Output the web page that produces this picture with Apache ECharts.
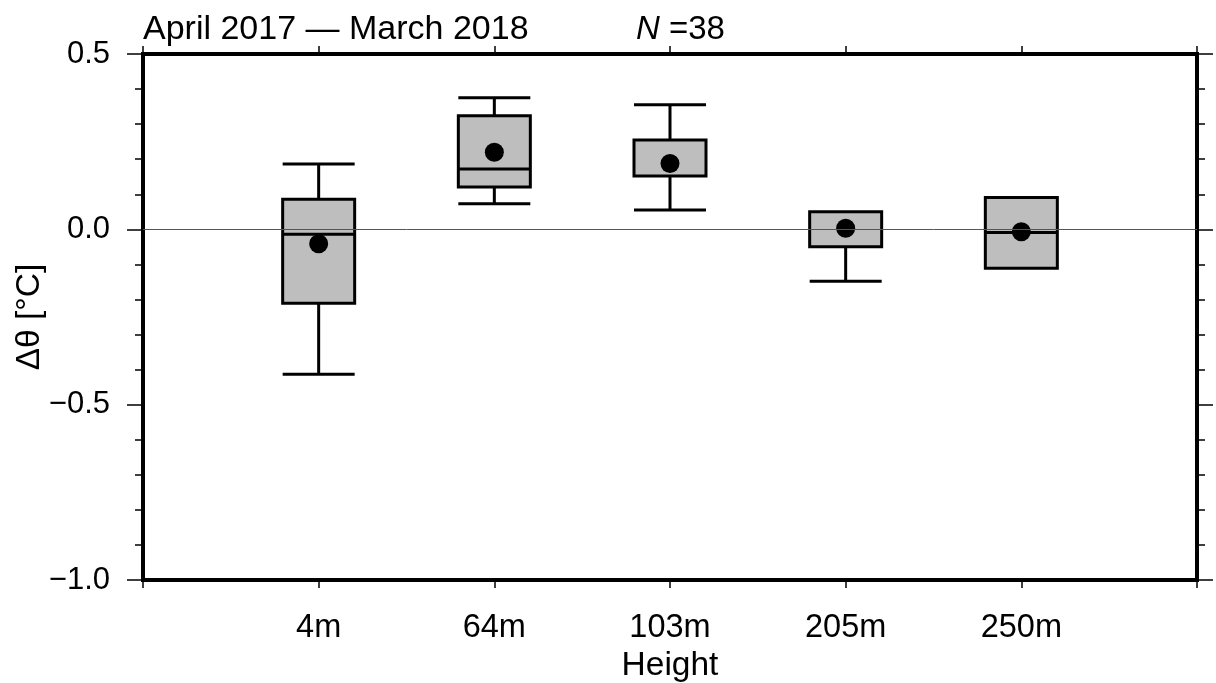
<!DOCTYPE html>
<html>
<head>
<meta charset="utf-8">
<title>Δθ by height</title>
<script src="https://cdn.jsdelivr.net/npm/echarts@6/dist/echarts.min.js"></script>
<style>
  html, body { margin: 0; padding: 0; background: #fff; }
  #chart { width: 1216px; height: 683px; }
</style>
</head>
<body>
<div id="chart"></div>
<script>
// Measurement heights, placed at x = 1..5 on a 0..6 axis
const categories = ['4m', '64m', '103m', '205m', '250m'];
const positions = [1, 2, 3, 4, 5];

// Box statistics of Δθ [°C] per height
const whiskerLow  = [-0.413, 0.073, 0.055, -0.148, -0.111];
const quartile1   = [-0.211, 0.121, 0.152, -0.050, -0.111];
const medians     = [-0.014, 0.172, 0.152, -0.050, -0.009];
const quartile3   = [ 0.086, 0.324, 0.255,  0.050,  0.091];
const whiskerHigh = [ 0.186, 0.375, 0.355,  0.050,  0.091];
const means       = [-0.041, 0.220, 0.188,  0.003, -0.007];

const yTickValues = [-1.0, -0.5, 0.0, 0.5];

const FONT = '"Liberation Sans", Arial, Helvetica, sans-serif';

const boxData = positions.map((x, i) =>
  [x, whiskerLow[i], quartile1[i], medians[i], quartile3[i], whiskerHigh[i]]);
const meanData = positions.map((x, i) => [x, means[i]]);

function yLabel(v) {
  const s = Math.abs(v).toFixed(1);
  return v < 0 ? '\u2212' + s : s;
}

const tickStyle = { color: '#000', width: 1.5 };
const noLine = { show: false, onZero: false };

const chart = echarts.init(document.getElementById('chart'), null, { renderer: 'canvas' });
chart.setOption({
  animation: false,
  backgroundColor: '#fff',
  grid: {
    left: 143, right: 19, top: 54, bottom: 103,
    containLabel: false, outerBoundsMode: 'none',
    show: true, borderColor: '#000', borderWidth: 4, backgroundColor: 'transparent'
  },
  graphic: [
    {
      type: 'text', left: 143, top: 13, silent: true,
      style: { text: 'April 2017 \u2014 March 2018', font: '34px ' + FONT, fill: '#000' }
    },
    {
      type: 'text', left: 636, top: 13, silent: true,
      style: {
        text: '{i|N} =38',
        font: '33px ' + FONT, fill: '#000',
        rich: { i: { fontStyle: 'italic', fontSize: 33, fontFamily: FONT, color: '#000' } }
      }
    }
  ],
  xAxis: [
    {
      type: 'value', position: 'bottom', min: 0, max: 6, interval: 1,
      name: 'Height', nameLocation: 'middle', nameGap: 69, nameMoveOverlap: false,
      nameTextStyle: { fontFamily: FONT, fontSize: 33.5, color: '#000' },
      axisLine: noLine,
      axisTick: { show: true, inside: false, length: 8, lineStyle: tickStyle },
      splitLine: { show: false },
      axisLabel: {
        margin: 32, fontFamily: FONT, fontSize: 32.5, color: '#000',
        showMinLabel: true, showMaxLabel: true,
        formatter: v => (v >= 1 && v <= categories.length ? categories[v - 1] : '')
      }
    },
    {
      type: 'value', position: 'top', min: 0, max: 6, interval: 1,
      axisLine: noLine,
      axisTick: { show: true, inside: false, length: 8, lineStyle: tickStyle },
      splitLine: { show: false },
      axisLabel: { show: false }
    }
  ],
  yAxis: [
    {
      type: 'value', position: 'left', min: yTickValues[0], max: yTickValues[yTickValues.length - 1], interval: 0.5,
      name: '\u0394\u03b8 [\u00b0C]', nameLocation: 'middle', nameGap: 96, nameMoveOverlap: false,
      nameTextStyle: { fontFamily: FONT, fontSize: 33.5, color: '#000' },
      axisLine: noLine,
      axisTick: { show: true, inside: false, length: 16, lineStyle: tickStyle },
      minorTick: { show: true, splitNumber: 5, length: 8, lineStyle: tickStyle },
      splitLine: { show: false },
      axisLabel: { margin: 33, fontFamily: FONT, fontSize: 31, color: '#000', formatter: yLabel }
    },
    {
      type: 'value', position: 'right', min: yTickValues[0], max: yTickValues[yTickValues.length - 1], interval: 0.5,
      axisLine: noLine,
      axisTick: { show: true, inside: false, length: 16, lineStyle: tickStyle },
      minorTick: { show: true, splitNumber: 5, length: 8, lineStyle: tickStyle },
      splitLine: { show: false },
      axisLabel: { show: false }
    }
  ],
  series: [
    {
      // zero reference line
      type: 'line', data: [], z: 1, silent: true,
      markLine: {
        silent: true, symbol: 'none', animation: false,
        label: { show: false },
        lineStyle: { color: '#555', width: 1, type: 'solid' },
        emphasis: { disabled: true },
        data: [{ yAxis: 0 }]
      }
    },
    {
      type: 'boxplot', z: 2, silent: true,
      layout: 'horizontal',
      boxWidth: [72, 72],
      itemStyle: { color: '#bebebe', borderColor: '#000', borderWidth: 3 },
      emphasis: { disabled: true },
      data: boxData
    },
    {
      type: 'scatter', z: 3, silent: true,
      symbol: 'circle', symbolSize: 19,
      itemStyle: { color: '#000', opacity: 1 },
      emphasis: { disabled: true },
      data: meanData
    }
  ]
});
</script>
</body>
</html>
